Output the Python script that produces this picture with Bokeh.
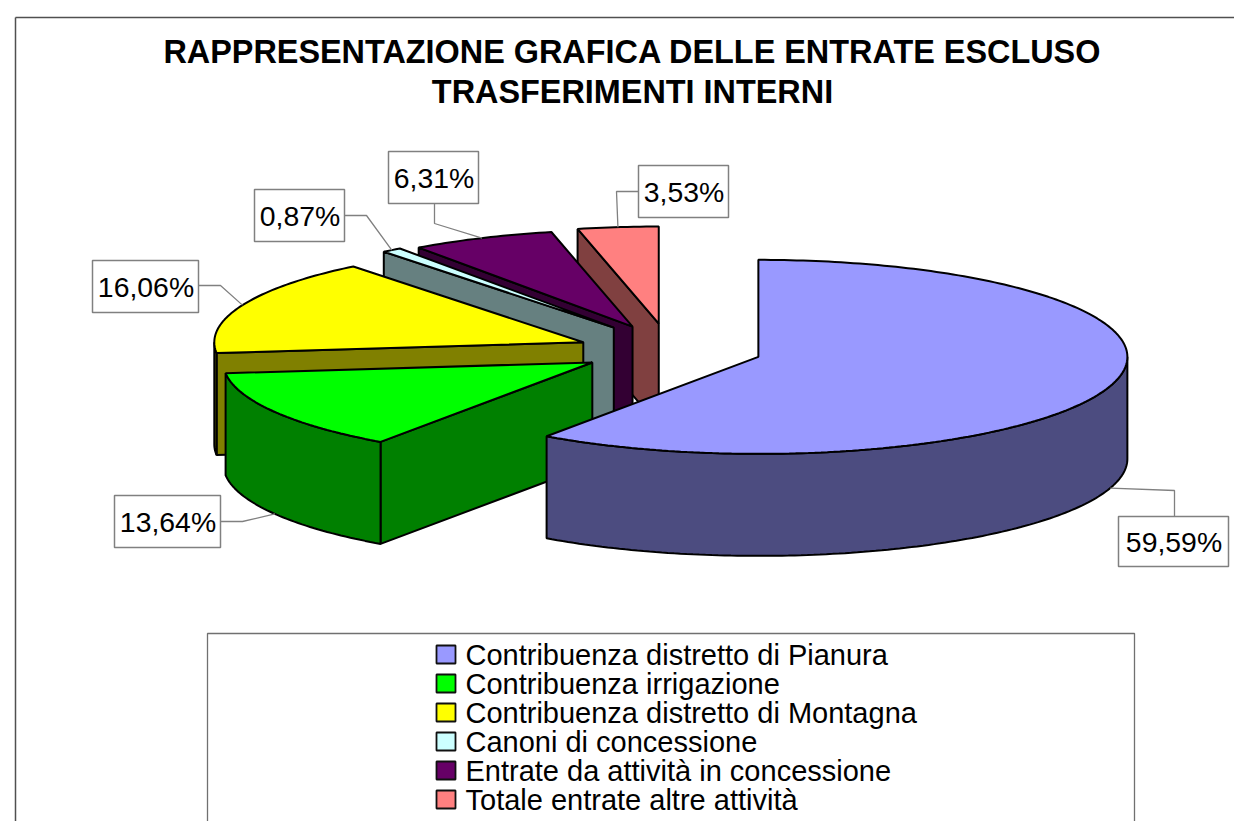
import numpy as np
from bokeh.core.properties import value
from bokeh.embed import file_html
from bokeh.models import Range1d
from bokeh.plotting import figure
from bokeh.resources import INLINE

TITLE_LINES = ["RAPPRESENTAZIONE GRAFICA DELLE ENTRATE ESCLUSO", "TRASFERIMENTI INTERNI"]
CATEGORIES = [
    "Contribuenza distretto di Pianura",
    "Contribuenza irrigazione",
    "Contribuenza distretto di Montagna",
    "Canoni di concessione",
    "Entrate da attività in concessione",
    "Totale entrate altre attività",
]
VALUES = [59.59, 13.64, 16.06, 0.87, 6.31, 3.53]
TOP_COLORS = ["#9999FF", "#00FF00", "#FFFF00", "#CCFFFF", "#660066", "#FF8080"]
SIDE_COLORS = ["#4C4C80", "#008000", "#808000", "#668080", "#330033", "#804040"]

# pie layout (page pixels)
CX, CY, RX, RY, DEPTH = 670.4, 348.7, 369.0, 97.0, 102.0
EXPLODE_X, EXPLODE_Y = 91.6, 25.8
# small per-slice offsets of the exploded slices, and of the first slice boundary (degrees)
APEX_NUDGE = [(0, 0), (0, 0), (-3, 3), (-2, -1), (-1, 1), (-2, 0)]
BOUNDARY_NUDGE = 0.5

# label boxes: left, right, top, bottom; and elbow of the leader line, leader start on the box
BOXES = [
    (1118, 1228, 516, 566), (114, 220, 495, 547), (92, 198, 260, 312),
    (254, 344, 189, 241), (388, 478, 151, 203), (638, 728, 165, 217),
]
ELBOWS = [(1174, 490), (242, 521), (220, 285), (366, 215), (434, 223), (616, 191)]
BOX_STARTS = [(1174, 516), (220, 521), (198, 285), (344, 215), (434, 203), (638, 191)]

W, H = 1234, 821
p = figure(width=W, height=H, output_backend="svg", toolbar_location=None,
           x_range=Range1d(0, W), y_range=Range1d(H, 0), min_border=0)
p.axis.visible = False
p.grid.visible = False
p.outline_line_color = None
p.background_fill_color = "white"

FONT = value("Liberation Sans")
INK = "#000000"
EDGE = 2.0


def rim(ax, ay, t0, t1, n=None):
    n = n or max(2, int(abs(t1 - t0)) + 2)
    t = np.radians(np.linspace(t0, t1, n))
    return ax + RX * np.sin(t), ay - RY * np.cos(t)


# outer chart frame
p.line([15, 15], [H, 17], line_color="#505050", line_width=1.5)
p.line([15, W], [17, 17], line_color="#505050", line_width=1.5)

for line, y in zip(TITLE_LINES, (51, 91)):
    p.text([632], [y], text=[line], text_font=FONT, text_font_style="bold", text_font_size="32.4px",
           text_align="center", text_baseline="middle", text_color="black")

total = sum(VALUES)
edges = np.concatenate([[0], np.cumsum(VALUES) / total * 360])
apexes = []
for i in range(len(VALUES)):
    mid = np.radians((edges[i] + edges[i + 1]) / 2)
    apexes.append((CX + EXPLODE_X * np.sin(mid) + APEX_NUDGE[i][0],
                   CY - EXPLODE_Y * np.cos(mid) + APEX_NUDGE[i][1]))
edges[1] += BOUNDARY_NUDGE

# back to front: last slice first
for i in reversed(range(len(VALUES))):
    ax, ay = apexes[i]
    t0, t1 = edges[i], edges[i + 1]
    # radial wall on the starting edge
    if 180 < t0 < 360:
        ex, ey = rim(ax, ay, t0, t0, 2)
        p.patch([ex[0], ax, ax, ex[0]], [ey[0], ay, ay + DEPTH, ey[0] + DEPTH],
                fill_color=SIDE_COLORS[i], line_color=INK, line_width=EDGE)
    # outer curved wall, visible on the front half
    a0, a1 = max(t0, 90), min(t1, 270)
    if a1 > a0:
        xs, ys = rim(ax, ay, a0, a1)
        p.patch(np.r_[xs, xs[::-1]], np.r_[ys, ys[::-1] + DEPTH],
                fill_color=SIDE_COLORS[i], line_color=INK, line_width=EDGE)
    xs, ys = rim(ax, ay, t0, t1)
    p.patch(np.r_[ax, xs], np.r_[ay, ys], fill_color=TOP_COLORS[i], line_color=INK, line_width=EDGE)

# data labels with leader lines
for i, v in enumerate(VALUES):
    ax, ay = apexes[i]
    mid = (edges[i] + edges[i + 1]) / 2
    rx_, ry_ = rim(ax, ay, mid, mid, 2)
    tip_y = ry_[0] + (DEPTH if 90 < mid < 270 else 0)
    sx, sy = BOX_STARTS[i]
    ex, ey = ELBOWS[i]
    p.line([sx, ex, rx_[0]], [sy, ey, tip_y], line_color="#808080", line_width=1.3)
    l, r, t, b = BOXES[i]
    p.quad(left=[l], right=[r], top=[t], bottom=[b], fill_color="white", line_color="#808080", line_width=1.5)
    p.text([(l + r) / 2 + 0.5], [(t + b) / 2], text=[f"{v:.2f}%".replace(".", ",")], text_font=FONT,
           text_font_size="28.4px", text_align="center", text_baseline="middle", text_color="black")

# legend
LEG_L, LEG_R, LEG_T = 207, 1134, 633
p.line([LEG_L, LEG_L, LEG_R, LEG_R], [H, LEG_T, LEG_T, H], line_color="#707070", line_width=1.3)
for i, name in enumerate(CATEGORIES):
    y = 654 + 29 * i
    p.quad(left=[436], right=[455], top=[y - 9], bottom=[y + 9], fill_color=TOP_COLORS[i],
           line_color="#101010", line_width=1.8)
    p.text([465], [y], text=[name], text_font=FONT, text_font_size="29px", text_align="left",
           text_baseline="middle", text_color="black")

open("out.html", "w").write(file_html(p, INLINE))
